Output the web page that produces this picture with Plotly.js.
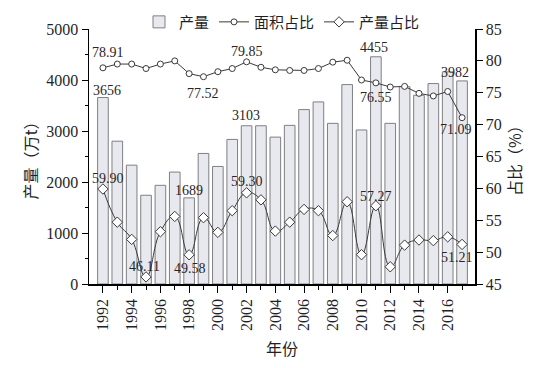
<!DOCTYPE html>
<html>
<head>
<meta charset="utf-8">
<script src="https://cdn.plot.ly/plotly-3.0.1.min.js"></script>
<style>html,body{margin:0;padding:0;background:#fff;}#chart{width:547px;height:368px;}</style>
</head>
<body>
<div id="chart"></div>
<script>
// ---- data ----
const years = [1992,1993,1994,1995,1996,1997,1998,1999,2000,2001,2002,2003,2004,2005,2006,2007,2008,2009,2010,2011,2012,2013,2014,2015,2016,2017];
const production = [3656,2800,2330,1740,1935,2195,1689,2560,2305,2835,3103,3103,2880,3110,3420,3570,3150,3910,3020,4455,3150,3870,3700,3930,4160,3982];
const areaShare = [78.91,79.5,79.5,78.8,79.5,80.0,78.0,77.52,78.3,78.8,79.85,79.0,78.6,78.5,78.5,78.8,79.8,80.1,77.0,76.55,75.9,76.0,74.9,74.5,75.2,71.09];
const prodShare = [59.90,54.7,52.0,46.11,53.2,55.6,49.58,55.4,53.1,56.5,59.30,58.2,53.3,54.7,56.7,56.5,52.6,57.9,49.6,57.27,47.7,51.1,51.9,51.8,52.4,51.21];
const labeledProdYears = [1992,1998,2002,2011,2017];
const labeledAreaYears = [1992,1999,2002,2011,2017];
const labeledShareYears = [1992,1995,1998,2002,2011,2017];
const xTickVals = [1992,1994,1996,1998,2000,2002,2004,2006,2008,2010,2012,2014,2016];

// ---- styles ----
const NUMF = 'Liberation Serif, "Times New Roman", "Noto Sans CJK SC", serif';
const CJK = '"Noto Sans CJK SC", sans-serif';
const TXT = '#1f1f2a';
const LBL = '#2a2424';
// label offsets in pixels [xshift, yshift]
const prodOff = {1992:[4,7],1998:[0,7],2002:[-1,10],2011:[-2,9],2017:[-7,8]};
const areaOff = {1992:[5,15],1999:[0,-17],2002:[0,10],2011:[0,-15],2017:[-6,-12]};
const shareOff = {1992:[5,11],1995:[-2,10],1998:[1,-14],2002:[0,11],2011:[0,9],2017:[-5,-13]};

const annotations = [];
function addLabels(ys, vals, labeled, off, yref, digits){
  ys.forEach((y,i)=>{
    if(!labeled.includes(y)) return;
    annotations.push({
      x:y, y:vals[i], xref:'x', yref:yref, showarrow:false,
      text: digits ? vals[i].toFixed(digits) : String(vals[i]),
      xshift:off[y][0], yshift:off[y][1],
      font:{family:NUMF, size:14, color:LBL}
    });
  });
}
addLabels(years, production, labeledProdYears, prodOff, 'y', 0);
addLabels(years, areaShare, labeledAreaYears, areaOff, 'y2', 2);
addLabels(years, prodShare, labeledShareYears, shareOff, 'y2', 2);

const traces = [
  {
    type:'bar', name:'产量', x:years, y:production,
    marker:{color:'#e8e9ee', line:{color:'#7f7f85', width:1}},
    width:0.74, hoverinfo:'x+y'
  },
  {
    type:'scatter', mode:'lines+markers', name:'面积占比', x:years, y:areaShare, yaxis:'y2',
    line:{color:'#3a3a3a', width:1},
    marker:{symbol:'circle', size:6, color:'#ffffff', line:{color:'#3a3a3a', width:1}},
    cliponaxis:false
  },
  {
    type:'scatter', mode:'lines+markers', name:'产量占比', x:years, y:prodShare, yaxis:'y2',
    line:{color:'#3a3a3a', width:1, shape:'spline', smoothing:1.3},
    marker:{symbol:'diamond', size:8, color:'#ffffff', line:{color:'#3a3a3a', width:1}},
    cliponaxis:false
  }
];

const layout = {
  width:547, height:368,
  margin:{l:89, r:72, t:29, b:84, autoexpand:false},
  paper_bgcolor:'#fff', plot_bgcolor:'#fff',
  font:{family:NUMF, size:16, color:TXT},
  showlegend:true,
  legend:{orientation:'h', x:0.5, xanchor:'center', y:1.027, yanchor:'middle',
          font:{family:CJK, size:15, color:TXT},
          itemwidth:30, tracegroupgap:0, bgcolor:'rgba(0,0,0,0)'},
  annotations: annotations,
  xaxis:{
    range:[1991.03, 2017.9], tickvals:xTickVals, ticktext:xTickVals.map(String),
    tickangle:-90, ticks:'outside', ticklen:7, tickcolor:'#000', tickwidth:1,
    minor:{dtick:1, tick0:1992, ticks:'outside', ticklen:4, tickcolor:'#000'},
    showline:true, linecolor:'#000', linewidth:1.5, showgrid:false, zeroline:false,
    tickfont:{family:NUMF, size:16, color:TXT},
    title:{text:'年份', font:{family:CJK, size:16, color:TXT}, standoff:14}
  },
  yaxis:{
    range:[0,5000], dtick:1000, ticks:'outside', ticklen:6, tickcolor:'#000',
    minor:{dtick:500, ticks:'outside', ticklen:3, tickcolor:'#000'},
    showline:true, linecolor:'#000', linewidth:1.5, showgrid:false, zeroline:false,
    tickfont:{family:NUMF, size:16, color:TXT},
    title:{text:'产量（万t）', font:{family:CJK, size:16, color:TXT}, standoff:4}
  },
  yaxis2:{
    overlaying:'y', side:'right', range:[45,85], dtick:5,
    ticks:'outside', ticklen:6, tickcolor:'#000',
    showline:true, linecolor:'#000', linewidth:1.5, showgrid:false, zeroline:false,
    tickfont:{family:NUMF, size:16, color:TXT},
    title:{text:'占比（%）', font:{family:CJK, size:16, color:TXT}, standoff:6}
  }
};

Plotly.newPlot('chart', traces, layout, {displayModeBar:false, staticPlot:true});
</script>
</body>
</html>
